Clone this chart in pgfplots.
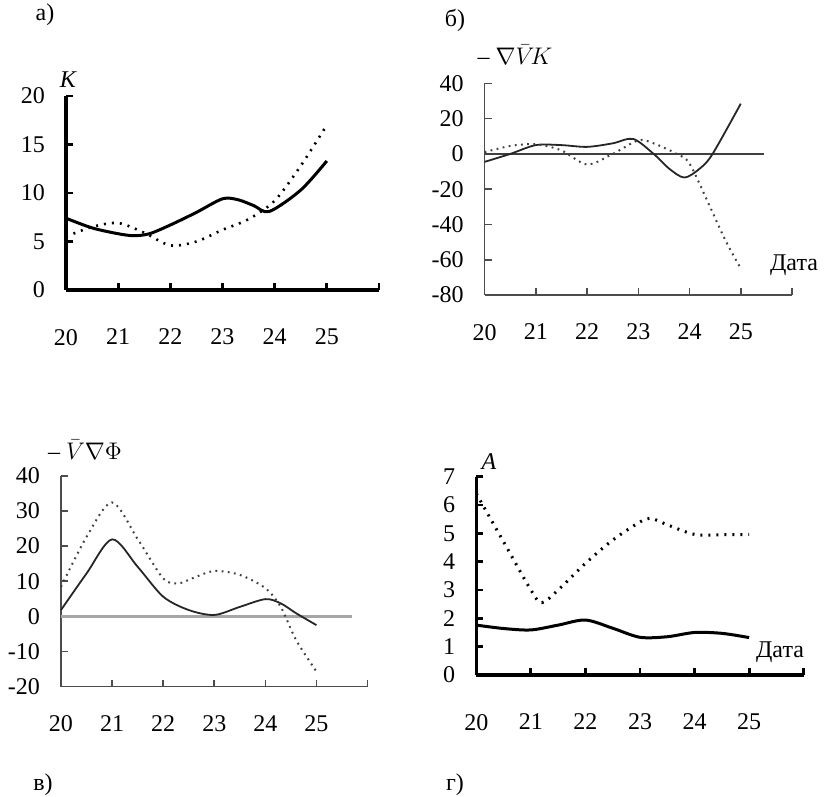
\documentclass[border=0pt]{standalone}
\usepackage{fontspec}
\setmainfont{Liberation Serif}
\usepackage{pgfplots}
\pgfplotsset{compat=1.18}

\newcommand{\fs}{\fontsize{12}{14}\selectfont}

\pgfplotsset{
  panel/.style={
    scale only axis, anchor=south west,
    axis lines=left, axis line style={-},
    xmin=20, xmax=26,
    xtick={20,...,26}, xticklabels={20,21,22,23,24,25,},
    tick align=inside, major tick length=3.5pt,
    clip=false,
    /pgf/number format/assume math mode=true,
    ticklabel style={font=\fs},
    yticklabel style={xshift=-7pt},
  },
  heavy/.style={axis line style={-, line width=1.6pt}, every tick/.style={black, line width=1.4pt}},
  light/.style={axis line style={-, line width=0.8pt, black!70}, every tick/.style={black!70, line width=0.8pt}},
}

\begin{document}
\begin{tikzpicture}
\useasboundingbox (0,0) rectangle (412.5pt,398.5pt);

% panel a
\begin{axis}[panel, heavy, at={(33pt,253.5pt)}, width=156.5pt, height=97pt,
  ymin=0, ymax=20, ytick={0,5,...,20}, xticklabel style={yshift=-16pt}]
\addplot[black, line width=1.5pt, smooth] coordinates {
(20,7.4) (20.5,6.4) (21,5.8) (21.3,5.6) (21.6,5.8) (22,6.7) (22.5,8.0) (23,9.4)
(23.3,9.3) (23.6,8.7) (23.9,8.1) (24.5,10.3) (25,13.3)};
\addplot[black, line width=1.3pt, dash pattern=on 1pt off 3pt, smooth] coordinates {
(20,5.5) (20.5,6.5) (21,6.9) (21.5,5.9) (22,4.6) (22.5,5.0) (23,6.2) (23.5,7.3)
(24,9.2) (24.5,12.8) (25,17)};
\end{axis}

% panel b
\begin{axis}[panel, light, at={(242.3pt,251pt)}, width=153.7pt, height=105.8pt,
  ymin=-80, ymax=40, ytick={-80,-60,...,40}, xticklabel style={yshift=-11pt}]
\addplot[black!75, line width=1pt] coordinates {(20,0) (25.45,0)};
\addplot[black!85, line width=0.9pt, smooth] coordinates {
(20,-4.5) (20.5,0) (21,5) (21.5,5) (22,4) (22.5,6) (22.9,8.5) (23.3,0) (23.6,-8.3)
(23.9,-13.4) (24.2,-8.3) (24.45,0) (25,28.5)};
\addplot[black!75, line width=1pt, dash pattern=on 0.9pt off 2.2pt, smooth] coordinates {
(20,1) (20.5,4.5) (21,5.5) (21.5,2) (22,-6) (22.5,0) (23,7.7) (23.3,6) (23.75,0)
(24,-5.5) (24.4,-30) (24.7,-49) (25,-65)};
\end{axis}

% panel v
\begin{axis}[panel, light, at={(30.5pt,55.15pt)}, width=153.3pt, height=105.5pt,
  ymin=-20, ymax=40, ytick={-20,-10,...,40}, xticklabel style={yshift=-11pt}]
\addplot[black!35, line width=1.4pt] coordinates {(20,0) (25.7,0)};
\addplot[black!85, line width=0.9pt, smooth] coordinates {
(20,1.8) (20.5,12.2) (21,21.9) (21.5,14.1) (22,5.6) (22.5,1.8) (23,0.4) (23.5,2.7)
(24,4.9) (24.3,3.7) (24.6,0.9) (25,-2.5)};
\addplot[black!75, line width=1pt, dash pattern=on 0.9pt off 2.2pt, smooth] coordinates {
(20,8.4) (20.5,22.6) (21,32.4) (21.5,22) (22,10.8) (22.3,9.4) (22.6,11) (23,12.9)
(23.5,11.8) (24,8) (24.3,2.7) (24.6,-6.7) (25,-15.7)};
\end{axis}

% panel g
\begin{axis}[panel, heavy, at={(238.15pt,61pt)}, width=163.7pt, height=99.2pt,
  ymin=0, ymax=7, ytick={0,1,...,7}, xticklabel style={yshift=-16pt}]
\addplot[black, line width=1.5pt, smooth] coordinates {
(20,1.76) (20.5,1.64) (21,1.59) (21.5,1.76) (22,1.94) (22.5,1.65) (23,1.33)
(23.5,1.35) (24,1.5) (24.5,1.47) (25,1.32)};
\addplot[black, line width=1.5pt, dash pattern=on 1pt off 3pt, smooth] coordinates {
(20,6.4) (20.5,4.7) (21,3.0) (21.2,2.55) (21.5,3.0) (22,3.94) (22.5,4.76) (23,5.4)
(23.2,5.53) (23.5,5.3) (24,4.96) (24.5,4.95) (25,4.96)};
\end{axis}

% panel letters and axis names
\node[font=\fs] at (22.5pt,391pt) {а)};
\node[font=\fs] at (227.5pt,388.5pt) {б)};
\node[font=\fs] at (21.5pt,6pt) {в)};
\node[font=\fs] at (227.5pt,6pt) {г)};
\node[font=\fs\itshape] at (34pt,358.5pt) {K};
\node[font=\fs] at (257.5pt,371pt) {– $\nabla\bar{V}\!K$};
\node[font=\fs] at (42.5pt,173.5pt) {– $\bar{V}\nabla\Phi$};
\node[font=\fs\itshape] at (244.5pt,167.5pt) {A};
\node[font=\fs] at (397pt,266pt) {Дата};
\node[font=\fs] at (390pt,72.5pt) {Дата};
\end{tikzpicture}
\end{document}
